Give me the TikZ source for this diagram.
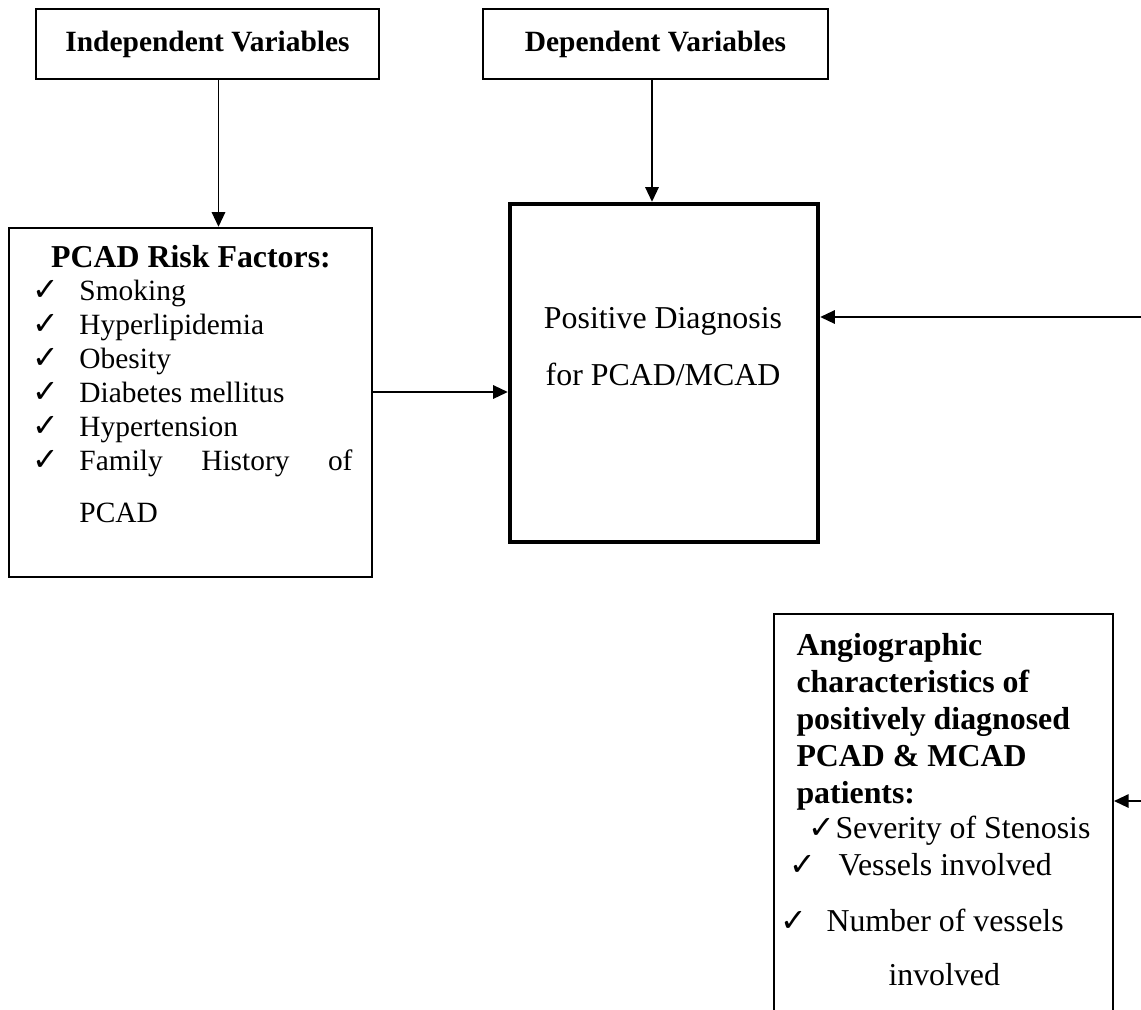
\documentclass[tikz,border=0pt]{standalone}
\usepackage{fontspec}
\setmainfont{Liberation Serif}
\newfontfamily\checkfont{DejaVu Sans}
\usetikzlibrary{arrows.meta}
\newcommand\pxl{0.408pt}
\newcommand\chk{{\checkfont\fontsize{13}{14}\selectfont ✓}}

\begin{document}
\begin{tikzpicture}[x=0.408pt, y=-0.408pt, >={Triangle[length=6pt,width=5.5pt]}, font=\fontsize{12}{14}\selectfont]
  \tikzset{
    box/.style 2 args={draw, line width=1pt, minimum width=#1*\pxl, minimum height=#2*\pxl, inner sep=0pt},
    line/.style={line width=0.7pt},
    txt/.style={anchor=base west, inner sep=0pt},
    ctxt/.style={anchor=base, inner sep=0pt},
    big/.style={font=\fontsize{13}{15}\selectfont},
    bigb/.style={font=\fontsize{13}{15}\selectfont\bfseries},
  }
  \useasboundingbox (0,0) rectangle (1141,1009);
  \clip (0,0) rectangle (1141,1009);

  % top boxes
  \node[box={343}{70}, font=\fontsize{12}{14}\selectfont\bfseries] (indep) at (207.5,44) {Independent Variables};
  \node[box={345}{70}, font=\fontsize{12}{14}\selectfont\bfseries] (dep) at (655.5,44) {Dependent Variables};

  % risk factors
  \node[box={363}{349}] (risk) at (190.5,402.5) {};
  \node[ctxt, bigb] (riskhead) at (191,267) {PCAD Risk Factors:};
  \foreach \t [count=\i] in {Smoking,Hyperlipidemia,Obesity,Diabetes mellitus,Hypertension}{
    \node[txt] (tick\i) at (32,{300+34*(\i-1)}) {\chk};
    \node[txt] (risk\i) at (79,{300+34*(\i-1)}) {\t};
  }
  \node[txt] (tick6) at (32,470) {\chk};
  \node[txt] (risk6) at (79,470) {\makebox[111.4pt][s]{Family History of}};
  \node[txt] (risk6b) at (79,522) {PCAD};

  % diagnosis
  \node[box={308}{338}, line width=1.8pt] (diag) at (664,373) {};
  \node[ctxt, big] (diag1) at (663,328) {Positive Diagnosis};
  \node[ctxt, big] (diag2) at (663,385) {for PCAD/MCAD};

  % angiographic characteristics
  \node[box={339}{430}, line width=0.8pt] (angio) at (943.5,829) {};
  \foreach \t/\y [count=\i] in {Angiographic/655,characteristics of/692,positively diagnosed/729,PCAD \& MCAD/766,patients:/803}
    \node[txt, bigb] (ang\i) at (796,\y) {\t};
  \node[txt] (tickS) at (808,838) {\chk};
  \node[txt, big] (sev) at (835,838) {Severity of Stenosis};
  \node[txt] (tickV) at (789,875) {\chk};
  \node[txt, big] (ves) at (838,875) {Vessels involved};
  \node[txt] (tickN) at (780,931) {\chk};
  \node[txt, big] (num) at (826,931) {Number of vessels};
  \node[txt, big] (numb) at (888,985) {involved};

  % connectors
  \coordinate (a1) at ([xshift=11*\pxl]indep.south);
  \coordinate (a2) at ([xshift=-3.5*\pxl]dep.south);
  \coordinate (rin1) at (1141,317);
  \coordinate (rin2) at (1141,801);
  \draw[line,->] (a1) -- (a1 |- risk.north);
  \draw[line,->] (a2) -- (a2 |- diag.north);
  \draw[line,->] (risk.east |- 0,392) -- (diag.west |- 0,392);
  \draw[line,->] (rin1) -- (rin1 -| diag.east);
  \draw[line,->] (rin2) -- (rin2 -| angio.east);
\end{tikzpicture}
\end{document}
